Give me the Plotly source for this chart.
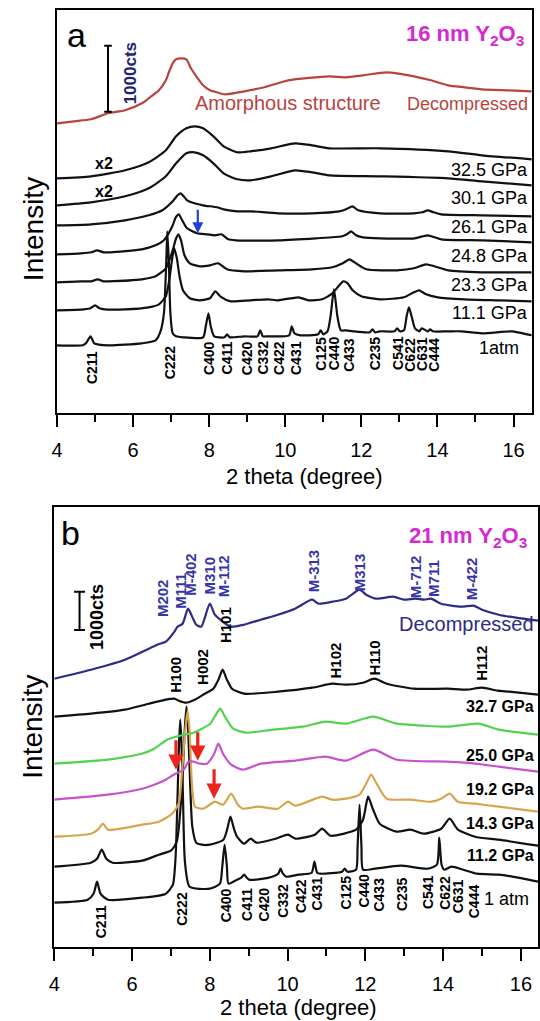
import plotly.graph_objects as go

FONT = "Liberation Sans, Arial, Helvetica, sans-serif"

# ---------------- panel a : 16 nm Y2O3 (2 theta, intensity in arbitrary offset units) ----------------
a_dec_x = [4.00, 4.45, 4.89, 5.34, 5.79, 6.23, 6.41, 6.68, 6.86, 6.95, 7.04, 7.13, 7.26, 7.40, 7.52, 7.66, 7.84, 8.02, 8.20, 8.42, 8.92, 9.45, 10.08, 11.15, 11.60, 12.04, 12.67, 13.38, 13.83, 14.28, 14.72, 15.17, 15.89, 16.48]
a_dec_y = [290, 292, 294, 300, 303, 310, 315, 323, 333, 342, 350, 354, 355, 354, 345, 337, 328, 323, 321, 319, 322, 326, 333, 337, 336, 338, 341, 337, 333, 328, 326, 324, 323, 322]

a_hi_x = [4.00, 4.89, 5.79, 6.41, 6.86, 7.13, 7.40, 7.62, 7.84, 8.11, 8.38, 8.74, 9.09, 9.63, 10.26, 10.70, 11.15, 12.49, 14.28, 15.17, 16.48]
a_325_y = [235, 237, 243, 251, 263, 277, 285, 287, 285, 277, 267, 261, 262, 265, 270, 268, 265, 265, 262, 258, 254]
a_301_y = [208, 211, 217, 225, 237, 250, 260, 261, 258, 250, 240, 234, 233, 237, 243, 241, 238, 237, 235, 232, 228]

a_261_x = [4.00, 4.89, 5.79, 6.41, 6.77, 7.04, 7.17, 7.25, 7.33, 7.42, 7.53, 7.84, 8.20, 8.38, 8.74, 9.09, 9.81, 10.70, 11.42, 11.60, 11.76, 11.92, 12.49, 13.38, 13.60, 13.74, 13.90, 14.10, 15.17, 16.48]
a_261_y = [188, 189, 193, 198, 203, 212, 218, 220, 217, 213, 211, 208, 206, 204, 202, 202, 200, 200, 202, 204, 207, 203, 200, 200, 201, 203, 201, 199, 198, 197]

a_248_x = [4.00, 4.63, 4.90, 5.05, 5.22, 5.40, 6.23, 6.59, 6.81, 7.03, 7.12, 7.20, 7.29, 7.42, 7.68, 7.95, 8.15, 8.32, 8.50, 8.70, 9.81, 10.80, 11.50, 11.62, 11.73, 11.86, 12.04, 12.50, 13.40, 13.74, 14.10, 15.20, 16.48]
a_248_y = [159, 160, 161, 163, 161, 161, 164, 168, 173, 187, 196, 199, 193, 185, 180, 179, 178, 179, 174, 173, 173, 175, 177, 179, 182, 178, 176, 175, 175, 178, 174, 173, 171]

a_233_x = [4.00, 4.63, 4.90, 5.07, 5.22, 5.34, 6.23, 6.59, 6.86, 7.04, 7.13, 7.19, 7.26, 7.35, 7.49, 7.75, 8.02, 8.24, 8.47, 8.92, 9.81, 10.70, 11.24, 11.51, 11.69, 11.86, 12.13, 12.94, 13.38, 13.70, 13.92, 14.28, 15.17, 16.48]
a_233_y = [131, 132, 132, 134, 132, 132, 134, 137, 145, 163, 175, 179, 173, 158, 150, 147, 148, 150, 144, 142, 143, 144, 146, 150, 154, 150, 144, 143, 145, 149, 147, 143, 141, 141]

a_111_x = [4.00, 4.71, 4.88, 5.00, 5.12, 5.25, 5.79, 6.41, 6.68, 6.86, 6.95, 7.02, 7.08, 7.15, 7.22, 7.31, 7.49, 7.75, 8.02, 8.16, 8.29, 8.56, 9.09, 9.54, 9.81, 10.35, 10.61, 10.97, 11.24, 11.42, 11.52, 11.64, 11.77, 12.00, 12.49, 13.12, 13.38, 13.52, 13.70, 14.01, 14.72, 15.62, 16.48]
a_111_y = [103, 104, 105, 108, 105, 104, 104, 106, 109, 117, 133, 153, 165, 155, 137, 123, 115, 113, 115, 122, 117, 112, 113, 114, 113, 116, 113, 114, 120, 128, 132, 130, 123, 117, 114, 116, 121, 123, 119, 116, 114, 113, 112]

a_atm_x = [4.00, 4.67, 4.76, 4.88, 4.98, 5.34, 6.23, 6.59, 6.72, 6.81, 6.87, 6.90, 6.94, 6.98, 7.04, 7.13, 7.31, 7.84, 7.91, 7.98, 8.04, 8.13, 8.40, 8.47, 8.54, 8.92, 9.27, 9.34, 9.41, 9.54, 10.10, 10.17, 10.24, 10.40, 10.86, 10.93, 11.00, 11.11, 11.19, 11.28, 11.37, 11.46, 11.60, 11.78, 12.22, 12.29, 12.36, 12.49, 12.87, 12.94, 13.01, 13.12, 13.19, 13.25, 13.32, 13.41, 13.52, 13.59, 13.75, 13.81, 13.88, 14.28, 14.63, 15.17, 15.97, 16.24, 16.48]
a_atm_y = [68, 68, 70, 77, 70, 68, 70, 73, 82, 100, 150, 182, 150, 100, 80, 77, 76, 76, 87, 100, 87, 77, 76, 79, 76, 77, 77, 83, 77, 77, 78, 87, 80, 78, 79, 83, 79, 82, 97, 124, 97, 83, 83, 82, 81, 84, 81, 82, 82, 85, 82, 83, 97, 106, 97, 85, 82, 85, 82, 84, 82, 82, 82, 80, 82, 80, 78]

a_hkl = ["C211", "C222", "C400", "C411", "C420", "C332", "C422", "C431", "C125", "C440", "C433", "C235", "C541", "C622", "C631", "C444"]
a_hkl_x = [4.94, 6.97, 7.99, 8.47, 8.99, 9.42, 9.85, 10.30, 10.95, 11.28, 11.69, 12.36, 12.98, 13.29, 13.61, 13.92]
a_hkl_y = [46, 51, 55, 55, 55, 56, 55, 55, 60, 60, 58, 60, 60, 59, 59, 59]

a_press = ["32.5 GPa", "30.1 GPa", "26.1 GPa", "24.8 GPa", "23.3 GPa", "11.1 GPa", "1atm"]
a_press_y = [243, 215, 186, 157, 128, 100, 65]

# ---------------- panel b : 21 nm Y2O3 ----------------
b_dec_x = [4.00, 4.94, 5.82, 6.43, 6.65, 6.87, 7.09, 7.17, 7.30, 7.44, 7.57, 7.65, 7.78, 8.00, 8.13, 8.27, 8.53, 8.88, 9.31, 9.75, 10.19, 10.63, 10.80, 11.15, 11.50, 11.85, 12.02, 12.29, 12.72, 12.99, 13.29, 13.51, 13.69, 13.95, 14.47, 14.78, 15.00, 15.43, 15.87, 16.44]
b_dec_y = [268, 277, 287, 298, 302, 305, 315, 320, 323, 338, 328, 322, 320, 343, 332, 327, 320, 322, 327, 332, 338, 347, 343, 345, 348, 357, 352, 348, 350, 347, 348, 347, 348, 343, 340, 341, 337, 332, 329, 326]

b_327_x = [4.00, 4.94, 5.82, 6.43, 6.87, 7.09, 7.20, 7.39, 7.61, 7.87, 8.09, 8.22, 8.33, 8.44, 8.57, 8.88, 9.75, 10.63, 11.15, 11.50, 11.94, 12.24, 12.55, 13.25, 14.12, 14.60, 15.00, 15.40, 15.70, 16.44]
b_327_y = [230, 233, 237, 243, 247, 248, 246, 244, 247, 253, 258, 267, 277, 267, 258, 253, 255, 259, 263, 262, 264, 268, 263, 258, 258, 257, 259, 256, 255, 252]

b_250_x = [4.00, 5.38, 6.25, 6.57, 6.90, 7.12, 7.33, 7.58, 7.75, 8.01, 8.14, 8.27, 8.39, 8.60, 8.93, 9.61, 10.40, 10.97, 11.50, 12.20, 12.81, 13.50, 14.12, 14.91, 15.43, 16.44]
b_250_y = [183, 187, 193, 198, 207, 210, 212, 214, 217, 223, 231, 238, 230, 218, 214, 217, 220, 225, 223, 230, 223, 221, 220, 223, 217, 212]

b_192_x = [4.00, 5.38, 6.26, 6.57, 6.87, 7.07, 7.33, 7.45, 7.58, 7.75, 7.92, 8.10, 8.22, 8.34, 8.55, 8.85, 9.31, 10.20, 10.97, 11.50, 12.20, 12.81, 14.12, 14.60, 15.43, 16.44]
b_192_y = [147, 152, 158, 162, 167, 172, 177, 185, 185, 183, 183, 192, 203, 193, 182, 177, 183, 186, 190, 186, 197, 187, 185, 184, 180, 175]

b_143_x = [4.00, 4.94, 5.12, 5.25, 5.38, 6.26, 6.69, 7.03, 7.20, 7.28, 7.37, 7.43, 7.48, 7.54, 7.62, 7.83, 8.13, 8.34, 8.55, 8.72, 8.85, 9.23, 9.75, 10.01, 10.20, 10.89, 11.15, 11.50, 11.85, 12.02, 12.15, 12.29, 12.55, 13.16, 13.69, 13.95, 14.17, 14.38, 14.82, 15.43, 16.44]
b_143_y = [110, 113, 117, 123, 117, 122, 125, 133, 143, 173, 217, 236, 215, 163, 140, 138, 145, 142, 153, 142, 138, 140, 138, 145, 141, 150, 147, 148, 152, 163, 172, 163, 148, 147, 145, 148, 153, 145, 143, 140, 135]

b_112_x = [4.00, 4.94, 5.10, 5.22, 5.34, 5.50, 6.26, 6.69, 7.00, 7.15, 7.28, 7.36, 7.40, 7.44, 7.50, 7.55, 7.65, 7.79, 8.00, 8.35, 8.45, 8.53, 8.62, 8.70, 8.88, 9.05, 9.20, 9.70, 10.01, 10.20, 10.70, 10.89, 11.10, 11.76, 11.94, 12.07, 12.20, 12.37, 12.81, 13.16, 13.50, 13.95, 14.17, 14.38, 14.82, 15.43, 16.44]
b_112_y = [80, 84, 88, 97, 88, 84, 86, 92, 96, 105, 157, 220, 240, 220, 157, 120, 104, 102, 102, 107, 118, 130, 118, 110, 103, 108, 104, 108, 112, 108, 112, 118, 111, 117, 127, 150, 137, 123, 115, 117, 113, 118, 128, 117, 110, 107, 101]

b_atm_x = [4.00, 4.86, 5.01, 5.10, 5.19, 5.38, 6.26, 6.87, 7.05, 7.12, 7.17, 7.21, 7.24, 7.27, 7.31, 7.36, 7.48, 8.00, 8.26, 8.32, 8.38, 8.44, 8.48, 8.70, 8.81, 8.88, 8.95, 9.01, 9.38, 9.60, 9.76, 9.82, 9.88, 9.97, 10.28, 10.62, 10.69, 10.76, 10.84, 11.40, 11.47, 11.54, 11.76, 11.80, 11.85, 11.90, 11.94, 12.24, 12.90, 13.60, 13.84, 13.90, 13.96, 14.03, 14.21, 14.52, 14.87, 15.43, 15.78, 16.44]
b_atm_y = [44, 47, 53, 65, 53, 47, 49, 53, 62, 90, 150, 205, 227, 205, 150, 85, 60, 58, 63, 80, 102, 80, 63, 67, 69, 72, 69, 67, 68, 70, 73, 78, 73, 70, 72, 74, 85, 74, 73, 75, 78, 75, 77, 100, 142, 100, 77, 78, 81, 78, 82, 109, 82, 77, 80, 77, 73, 72, 70, 65]

b_hkl_x = [5.19, 7.30, 8.42, 8.95, 9.40, 9.88, 10.35, 10.76, 11.50, 11.96, 12.36, 12.94, 13.60, 14.03, 14.37, 14.78]
b_hkl_y = [25, 37.5, 41.7, 42.5, 42.5, 45.9, 50.9, 53.4, 54.2, 55.9, 52.5, 52.5, 54.2, 54.2, 50, 45.9]

m_hkl = ["M202", "M111", "M-402", "M310", "M-112", "M-313", "M313", "M-712", "M711", "M-422"]
m_hkl_x = [6.78, 7.26, 7.52, 8.00, 8.35, 10.67, 11.85, 13.29, 13.77, 14.73]
m_hkl_y = [349, 356, 372, 371, 371, 376, 374, 370, 368, 368]

h_hkl = ["H100", "H002", "H101", "H102", "H110", "H112"]
h_hkl_x = [7.13, 7.83, 8.40, 11.24, 12.24, 15.00]
h_hkl_y = [272, 280, 322, 286, 289, 283]

b_press = ["32.7 GPa", "25.0 GPa", "19.2 GPa", "14.3 GPa", "11.2 GPa", "1 atm"]
b_press_y = [240, 191, 157, 123, 91, 48]

# arrows (x, tail y, tip y)
a_arrow = (7.70, 204, 180)
b_arrow_x = [7.13, 7.69, 8.11]
b_arrow_tail = [207, 215, 178]
b_arrow_tip = [177, 186, 148]

BLACK = "#111111"
RED = "#b8443e"
NAVY = "#2c2c86"
GREEN = "#52d24e"
MAGENTA = "#c653cc"
ORANGE = "#d9a44e"
MLAB = "#3535a8"
TITLE = "#d42ad2"

fig = go.Figure()


def add(x, y, color, xa="x", ya="y"):
    fig.add_trace(go.Scatter(x=x, y=y, mode="lines", xaxis=xa, yaxis=ya,
                             line=dict(color=color, width=2.2, shape="spline", smoothing=0.6),
                             hoverinfo="skip", showlegend=False))


add(a_atm_x, a_atm_y, BLACK)
add(a_111_x, a_111_y, BLACK)
add(a_233_x, a_233_y, BLACK)
add(a_248_x, a_248_y, BLACK)
add(a_261_x, a_261_y, BLACK)
add(a_hi_x, a_301_y, BLACK)
add(a_hi_x, a_325_y, BLACK)
add(a_dec_x, a_dec_y, RED)

add(b_atm_x, b_atm_y, BLACK, "x2", "y2")
add(b_112_x, b_112_y, BLACK, "x2", "y2")
add(b_143_x, b_143_y, ORANGE, "x2", "y2")
add(b_192_x, b_192_y, MAGENTA, "x2", "y2")
add(b_250_x, b_250_y, GREEN, "x2", "y2")
add(b_327_x, b_327_y, BLACK, "x2", "y2")
add(b_dec_x, b_dec_y, NAVY, "x2", "y2")

ann = []


def txt(text, x, y, size, color="black", bold=False, angle=0, xa="x", ya="y", xanchor="center", yanchor="middle"):
    t = "<b>%s</b>" % text if bold else text
    ann.append(dict(text=t, x=x, y=y, xref=xa, yref=ya, showarrow=False, textangle=angle,
                    xanchor=xanchor, yanchor=yanchor,
                    font=dict(family=FONT, size=size, color=color)))


for t, x, y in zip(a_hkl, a_hkl_x, a_hkl_y):
    txt(t, x, y, 14, bold=True, angle=-90)
for t, x, y in zip(a_hkl, b_hkl_x, b_hkl_y):
    txt(t, x, y, 14, bold=True, angle=-90, xa="x2", ya="y2")
for t, x, y in zip(m_hkl, m_hkl_x, m_hkl_y):
    txt(t, x, y, 15, color=MLAB, bold=True, angle=-90, xa="x2", ya="y2")
for t, x, y in zip(h_hkl, h_hkl_x, h_hkl_y):
    txt(t, x, y, 15, bold=True, angle=-90, xa="x2", ya="y2")

for t, y in zip(a_press, a_press_y):
    txt(t, 16.20 if t == "1atm" else 16.42, y, 18, xanchor="right")
for t, y in zip(b_press, b_press_y):
    if t == "1 atm":
        txt(t, 16.26, y, 18, xanchor="right", xa="x2", ya="y2")
    else:
        txt(t, 16.39, y, 16, bold=True, xanchor="right", xa="x2", ya="y2")

txt("x2", 5.23, 250, 16, bold=True)
txt("x2", 5.23, 222, 16, bold=True)
txt("Amorphous structure", 10.06, 310, 20, color=RED)
txt("Decompressed", 16.44, 309, 18, color=RED, xanchor="right")
txt("1000cts", 5.92, 340, 17, color="#23236e", bold=True, angle=-90)
txt("Decompressed", 16.39, 323, 20, color=NAVY, xanchor="right", xa="x2", ya="y2")
txt("1000cts", 5.08, 330, 18, bold=True, angle=-90, xa="x2", ya="y2")


# paper-level texts
def ptxt(text, x, y, size, color="black", angle=0, xanchor="center", yanchor="middle"):
    ann.append(dict(text=text, x=x, y=y, xref="paper", yref="paper", showarrow=False,
                    textangle=angle, xanchor=xanchor, yanchor=yanchor,
                    font=dict(family=FONT, size=size, color=color)))


ptxt("a", 0.1324, 1 - 35 / 1021, 34)
ptxt("b", 0.121, 1 - 533 / 1021, 34)
ptxt("<b>16 nm Y<sub>2</sub>O<sub>3</sub></b>", 527 / 540, 1 - 35 / 1021, 22, color=TITLE, xanchor="right")
ptxt("<b>21 nm Y<sub>2</sub>O<sub>3</sub></b>", 530 / 540, 1 - 537 / 1021, 22, color=TITLE, xanchor="right")
ptxt("Intensity", 27.5 / 540, 1 - 229 / 1021, 28, angle=-90)
ptxt("Intensity", 26 / 540, 1 - 727 / 1021, 28, angle=-90)
ptxt("2 theta (degree)", 302 / 540, 1 - 476.5 / 1021, 22)
ptxt("2 theta (degree)", 296 / 540, 1 - 1007 / 1021, 22)


# arrows (tail box made tiny so the shaft starts at the tail point)
def arrow(x, tail, tip, color, width, size, xa, ya):
    ann.append(dict(x=x, y=tip, ax=x, ay=tail, xref=xa, yref=ya, axref=xa, ayref=ya, text="",
                    font=dict(size=1), borderpad=0, showarrow=True, arrowhead=2,
                    arrowsize=size, arrowwidth=width, arrowcolor=color, standoff=0, startstandoff=0))


arrow(a_arrow[0], a_arrow[1], a_arrow[2], "#1f3fe0", 2.2, 1.0, "x", "y")
for x, t0, t1 in zip(b_arrow_x, b_arrow_tail, b_arrow_tip):
    arrow(x, t0, t1, "#e8241c", 3.2, 0.95, "x2", "y2")

shapes = []
# scale bars
for (xc, y0, y1, hw, xa, ya) in [(5.34, 301.6, 367.6, 0.10, "x", "y"), (4.65, 316.7, 355, 0.14, "x2", "y2")]:
    shapes.append(dict(type="line", x0=xc, x1=xc, y0=y0, y1=y1, xref=xa, yref=ya, line=dict(color="black", width=2)))
    shapes.append(dict(type="line", x0=xc - hw, x1=xc + hw, y0=y0, y1=y0, xref=xa, yref=ya, line=dict(color="black", width=2)))
    shapes.append(dict(type="line", x0=xc - hw, x1=xc + hw, y0=y1, y1=y1, xref=xa, yref=ya, line=dict(color="black", width=2)))

xcommon = dict(showline=True, mirror=True, linewidth=2, linecolor="black", ticks="outside", ticklen=12,
               tickwidth=2, tickcolor="black", dtick=2, tick0=4, showgrid=False, zeroline=False,
               tickfont=dict(family=FONT, size=20, color="black"), ticklabelstandoff=6,
               minor=dict(dtick=1, ticks="outside", ticklen=7, tickwidth=2, tickcolor="black", showgrid=False))
ycommon = dict(showline=True, mirror=True, linewidth=2, linecolor="black", ticks="", showticklabels=False,
               showgrid=False, zeroline=False)

fig.update_layout(
    width=540, height=1021, margin=dict(l=0, r=0, t=0, b=0),
    paper_bgcolor="white", plot_bgcolor="white", showlegend=False,
    xaxis=dict(domain=[51.7 / 540, 532.7 / 540], range=[4, 16.48], anchor="y", **xcommon),
    yaxis=dict(domain=[1 - 413.3 / 1021, 1 - 10 / 1021], range=[0, 403.3], anchor="x", **ycommon),
    xaxis2=dict(domain=[48.9 / 540, 539 / 540], range=[4, 16.44], anchor="y2", **xcommon),
    yaxis2=dict(domain=[1 - 946.7 / 1021, 1 - 507.3 / 1021], range=[0, 439.4], anchor="x2", **ycommon),
    annotations=ann, shapes=shapes,
)

fig.write_html("out.html", config={"displayModeBar": False},
               post_script="document.body.style.margin='0';document.body.style.overflow='hidden';")
